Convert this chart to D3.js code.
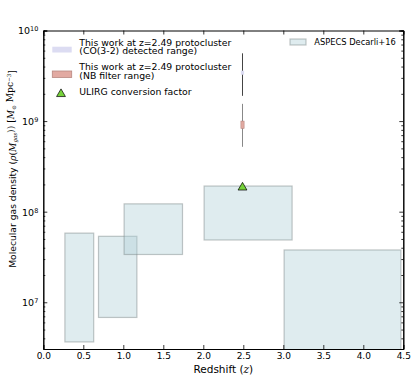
<!DOCTYPE html>
<html>
<head>
<meta charset="utf-8">
<script src="https://cdn.jsdelivr.net/npm/d3@7"></script>
<style>
  body { margin: 0; background: #fff; }
  svg text { font-family: "DejaVu Sans", sans-serif; fill: #000; }
  .math { font-family: "DejaVu Serif", serif; font-style: italic; }
</style>
</head>
<body>
<div id="content"></div>
<script>
// ASPECS Decarli+16 boxes
const aspecsZlo = [0.27, 0.69, 1.01, 2.01, 3.01];
const aspecsZhi = [0.63, 1.17, 1.74, 3.11, 4.47];
const aspecsRhoLo = [3.65e6, 6.8e6, 3.37e7, 4.87e7, 1e6];
const aspecsRhoHi = [5.8e7, 5.35e7, 1.22e8, 1.92e8, 3.78e7];

// this work, z=2.49 protocluster
const pcZ = 2.49;
const pcZlo = 2.47, pcZhi = 2.51;
const coLine = [1.9e9, 5.6e9];
const coBox = [3.25e9, 3.6e9];
const nbLine = [5.2e8, 1.55e9];
const nbBox = [8.3e8, 1.0e9];
const ulirgRho = 1.85e8;

const xTicks = [0, 0.5, 1, 1.5, 2, 2.5, 3, 3.5, 4, 4.5];
const yTicks = [1e7, 1e8, 1e9, 1e10];
const yExps = ['7', '8', '9', '10'];

const W = 415, H = 385;
const m = {left: 43.3, top: 30.5, right: 11.7, bottom: 36};
const iw = W - m.left - m.right, ih = H - m.top - m.bottom;

const x = d3.scaleLinear().domain([0, 4.5]).range([0, iw]);
const y = d3.scaleLog().domain([3.05e6, 1e10]).range([ih, 0]);

const svg = d3.select('#content').append('svg').attr('width', W).attr('height', H);
svg.append('defs').append('clipPath').attr('id', 'clip')
  .append('rect').attr('width', iw).attr('height', ih);
const g = svg.append('g').attr('transform', `translate(${m.left},${m.top})`);
const plot = g.append('g').attr('clip-path', 'url(#clip)');

// boxes
plot.selectAll('rect.aspecs').data(aspecsZlo).join('rect')
  .attr('class', 'aspecs')
  .attr('x', (d, i) => x(d))
  .attr('width', (d, i) => x(aspecsZhi[i]) - x(d))
  .attr('y', (d, i) => y(aspecsRhoHi[i]))
  .attr('height', (d, i) => y(aspecsRhoLo[i]) - y(aspecsRhoHi[i]))
  .attr('fill', 'rgb(176,208,214)').attr('fill-opacity', 0.4)
  .attr('stroke', 'rgb(120,130,130)').attr('stroke-opacity', 0.45).attr('stroke-width', 1.2);

// error lines
plot.append('line').attr('x1', x(pcZ)).attr('x2', x(pcZ))
  .attr('y1', y(coLine[0])).attr('y2', y(coLine[1]))
  .attr('stroke', '#444').attr('stroke-width', 1);
plot.append('line').attr('x1', x(pcZ)).attr('x2', x(pcZ))
  .attr('y1', y(nbLine[0])).attr('y2', y(nbLine[1]))
  .attr('stroke', '#888').attr('stroke-width', 1);
plot.append('rect').attr('x', x(pcZlo)).attr('width', x(pcZhi) - x(pcZlo))
  .attr('y', y(coBox[1])).attr('height', y(coBox[0]) - y(coBox[1]))
  .attr('fill', '#dcdcf2');
plot.append('rect').attr('x', x(pcZlo)).attr('width', x(pcZhi) - x(pcZlo))
  .attr('y', y(nbBox[1])).attr('height', y(nbBox[0]) - y(nbBox[1]))
  .attr('fill', '#e2aaa2').attr('stroke', '#b88880').attr('stroke-width', 0.6);

const tri = d3.symbol().type(d3.symbolTriangle).size(34);
plot.append('path').attr('d', tri)
  .attr('transform', `translate(${x(pcZ)},${y(ulirgRho)})`)
  .attr('fill', '#76d23a').attr('stroke', '#000').attr('stroke-width', 0.7);

// axes (ticks inside, all four sides)
const styleAxis = sel => {
  sel.select('.domain').attr('stroke', '#000').attr('stroke-width', 1);
  sel.selectAll('.tick line').attr('stroke', '#000').attr('stroke-width', 0.8);
  sel.selectAll('.tick text').attr('font-size', 9).attr('font-family', 'DejaVu Sans');
};
g.append('g').attr('transform', `translate(0,${ih})`)
  .call(d3.axisBottom(x).tickValues(xTicks).tickFormat(d3.format('.1f')).tickSize(-4).tickPadding(4))
  .call(styleAxis);
g.append('g')
  .call(d3.axisTop(x).tickValues(xTicks).tickFormat('').tickSize(-4))
  .call(styleAxis);

const minor = [];
[1e6, 1e7, 1e8, 1e9].forEach(dec => { for (let k = 2; k <= 9; k++) minor.push(k * dec); });
const minorIn = minor.filter(v => v >= 3.05e6 && v <= 1e10);

const yl = g.append('g')
  .call(d3.axisLeft(y).tickValues(yTicks).tickFormat('').tickSize(-4))
  .call(styleAxis);
yl.selectAll('.tick').each(function(d, i) {
  const t = d3.select(this).append('text').attr('x', -5).attr('dy', '0.35em')
    .attr('text-anchor', 'end').attr('font-size', 9.5);
  t.append('tspan').text('10');
  t.append('tspan').attr('dy', '-0.45em').attr('font-size', 6.5).text(yExps[i]);
});
g.append('g').call(d3.axisLeft(y).tickValues(minorIn).tickFormat('').tickSize(-2)).call(styleAxis);
g.append('g').attr('transform', `translate(${iw},0)`)
  .call(d3.axisRight(y).tickValues(yTicks).tickFormat('').tickSize(-4)).call(styleAxis);
g.append('g').attr('transform', `translate(${iw},0)`)
  .call(d3.axisRight(y).tickValues(minorIn).tickFormat('').tickSize(-2)).call(styleAxis);

// axis labels
const xl = svg.append('text').attr('x', m.left + iw / 2).attr('y', 373)
  .attr('text-anchor', 'middle').attr('font-size', 10.5);
xl.append('tspan').text('Redshift (');
xl.append('tspan').attr('class', 'math').text('z');
xl.append('tspan').text(')');

const ylab = svg.append('text').attr('transform', 'translate(15.5,169) rotate(-90)')
  .attr('text-anchor', 'middle').attr('font-size', 9.2);
ylab.append('tspan').text('Molecular gas density (');
ylab.append('tspan').attr('class', 'math').text('ρ');
ylab.append('tspan').attr('class', 'math').style('font-style', 'normal').text('(');
ylab.append('tspan').attr('class', 'math').text('M');
ylab.append('tspan').attr('class', 'math').attr('font-size', 5.5).attr('dy', '0.3em').text('gas');
ylab.append('tspan').attr('class', 'math').style('font-style', 'normal').attr('dy', '-0.3em').text('))');
ylab.append('tspan').attr('class', 'math').style('font-style', 'normal').text(' [');
ylab.append('tspan').attr('class', 'math').text('M');
ylab.append('tspan').attr('class', 'math').style('font-style', 'normal').attr('font-size', 5.5).attr('dy', '0.3em').text('⊙');
ylab.append('tspan').attr('class', 'math').style('font-style', 'normal').attr('dy', '-0.3em').text(' Mpc');
ylab.append('tspan').attr('class', 'math').style('font-style', 'normal').attr('font-size', 5.5).attr('dy', '-0.5em').text('−3');
ylab.append('tspan').attr('class', 'math').style('font-style', 'normal').attr('dy', '0.5em').text(']');

// legends
const leg = svg.append('g').attr('font-size', 9.3);
leg.append('rect').attr('x', 52.3).attr('y', 46.7).attr('width', 19.4).attr('height', 5.8)
  .attr('fill', '#dcdcf2');
leg.append('text').attr('x', 79.3).attr('y', 45.6).attr('textLength', 152).text('This work at z=2.49 protocluster');
leg.append('text').attr('x', 79.3).attr('y', 54.3).text('(CO(3-2) detected range)');
leg.append('rect').attr('x', 52.3).attr('y', 71).attr('width', 19.4).attr('height', 6.5)
  .attr('fill', '#e2aaa2').attr('stroke', '#b88880').attr('stroke-width', 0.8);
leg.append('text').attr('x', 79.3).attr('y', 70).attr('textLength', 152).text('This work at z=2.49 protocluster');
leg.append('text').attr('x', 79.3).attr('y', 79).text('(NB filter range)');
leg.append('path').attr('d', tri).attr('transform', 'translate(61,94)')
  .attr('fill', '#76d23a').attr('stroke', '#000').attr('stroke-width', 0.7);
leg.append('text').attr('x', 79.3).attr('y', 95).text('ULIRG conversion factor');

leg.append('rect').attr('x', 290).attr('y', 39).attr('width', 16).attr('height', 6)
  .attr('fill', 'rgb(176,208,214)').attr('fill-opacity', 0.4)
  .attr('stroke', 'rgb(120,130,130)').attr('stroke-opacity', 0.45).attr('stroke-width', 1.2);
leg.append('text').attr('x', 314.3).attr('y', 45.3).attr('font-size', 8.3).text('ASPECS Decarli+16');
</script>
</body>
</html>
